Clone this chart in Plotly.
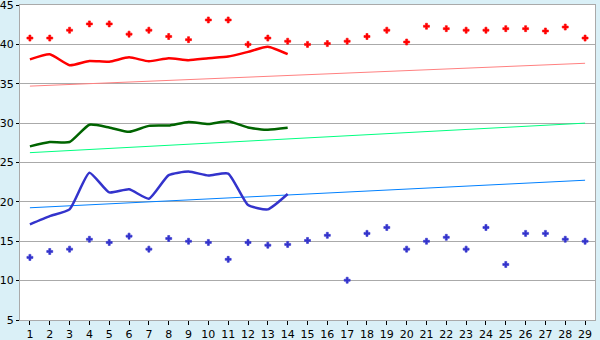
import plotly.graph_objects as go

categories = list(range(1, 30))
cat_labels = [str(c) for c in categories]

red_points = [40.8, 40.8, 41.8, 42.6, 42.6, 41.3, 41.8, 41.0, 40.6, 43.1,
              43.1, 40.0, 40.8, 40.4, 40.0, 40.1, 40.4, 41.0, 41.8, 40.3,
              42.3, 42.0, 41.8, 41.8, 42.0, 42.0, 41.7, 42.2, 40.8]
red_line = [38.1, 38.75, 37.35, 37.9, 37.8, 38.35, 37.85, 38.25, 38.0, 38.25,
            38.45, 39.05, 39.7, 38.75]
green_line = [27.05, 27.6, 27.6, 29.8, 29.45, 28.9, 29.65, 29.7, 30.15, 29.9,
              30.25, 29.45, 29.15, 29.4]
blue_line = [17.15, 18.2, 19.05, 23.7, 21.2, 21.6, 20.4, 23.4, 23.85, 23.35,
             23.6, 19.6, 19.05, 21.0]
blue_points = [12.95, 13.7, 14.0, 15.25, 14.85, 15.65, 14.0, 15.35, 15.0, 14.85,
               12.7, 14.85, 14.5, 14.6, 15.1, 15.75, 10.05, 16.0, 16.75, 14.0,
               15.0, 15.5, 14.0, 16.75, 12.05, 16.0, 16.0, 15.25, 15.0]
trend_x = [1, 29]
red_trend = [34.7, 37.6]
green_trend = [26.25, 30.0]
blue_trend = [19.25, 22.75]

line_x = categories[:len(red_line)]

fig = go.Figure()

# trend lines
for ys, col in [(red_trend, "#FF8080"), (green_trend, "#00FF80"), (blue_trend, "#0080FF")]:
    fig.add_trace(go.Scatter(x=trend_x, y=ys, mode="lines",
                             line=dict(color=col, width=1), hoverinfo="skip"))

for ys, col in [(red_line, "#FF0000"), (green_line, "#006400"), (blue_line, "#3333CC")]:
    fig.add_trace(go.Scatter(x=line_x, y=ys, mode="lines",
                             line=dict(color=col, width=2.5, shape="spline", smoothing=0.5)))

fig.add_trace(go.Scatter(x=categories, y=red_points, mode="markers",
                         marker=dict(symbol="cross", size=5, color="#FF0000",
                                     line=dict(color="#FF0000", width=0.6))))
fig.add_trace(go.Scatter(x=categories, y=blue_points, mode="markers",
                         marker=dict(symbol="cross", size=5, color="#3333CC",
                                     line=dict(color="#3333CC", width=0.6))))

fig.update_layout(
    width=600, height=340,
    margin=dict(l=20, r=5, t=5, b=20, autoexpand=False),
    paper_bgcolor="#DAF0F7",
    plot_bgcolor="#FFFFFF",
    showlegend=False,
    font=dict(family="DejaVu Sans", size=11, color="#000000"),
)
fig.update_xaxes(
    range=[0.5, 29.5], tickmode="array", tickvals=categories, ticktext=cat_labels,
    showgrid=False, zeroline=False, automargin=False, ticklabeloverflow="allow",
    showline=True, linecolor="#AAAAAA", linewidth=1, mirror=True,
    ticks="outside", ticklen=4, tickcolor="#000000",
)
fig.update_yaxes(
    range=[5, 45], tickmode="array", tickvals=[5, 10, 15, 20, 25, 30, 35, 40, 45],
    showgrid=True, gridcolor="#AAAAAA", gridwidth=1, zeroline=False,
    automargin=False, ticklabeloverflow="allow",
    showline=True, linecolor="#AAAAAA", linewidth=1, mirror=True,
    ticks="outside", ticklen=3, tickcolor="#000000",
)

fig.write_html("out.html")
